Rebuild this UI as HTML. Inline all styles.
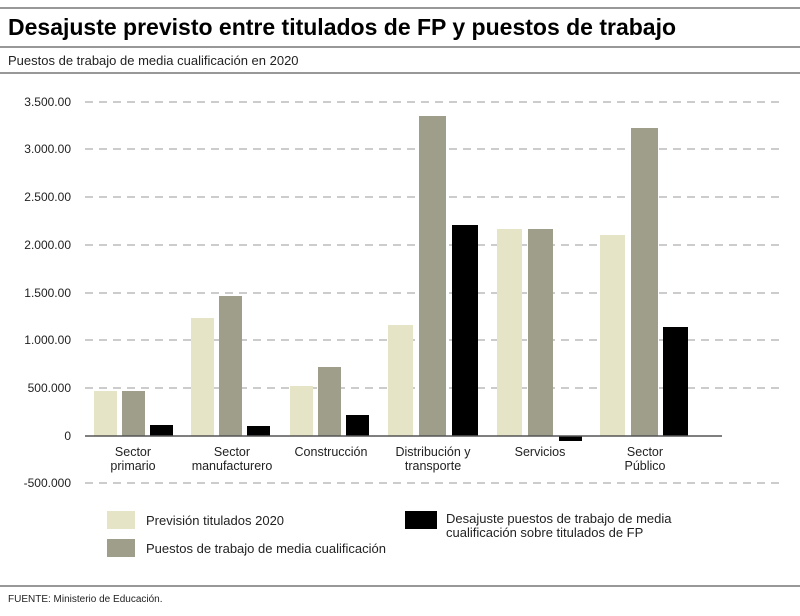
<!DOCTYPE html>
<html><head><meta charset="utf-8"><style>
body{margin:0;background:#fff;font-family:"Liberation Sans",sans-serif;}
</style></head><body>
<svg width="800" height="611" xmlns="http://www.w3.org/2000/svg" font-family="Liberation Sans, sans-serif">
<rect width="800" height="611" fill="#fff"/>
<line x1="0" y1="8" x2="800" y2="8" stroke="#777" stroke-width="1.5"/>
<text x="8" y="35" font-size="23" font-weight="bold" fill="#000">Desajuste previsto entre titulados de FP y puestos de trabajo</text>
<line x1="0" y1="47" x2="800" y2="47" stroke="#777" stroke-width="1.5"/>
<text x="8" y="65" font-size="13" fill="#222">Puestos de trabajo de media cualificación en 2020</text>
<line x1="0" y1="73" x2="800" y2="73" stroke="#777" stroke-width="1.5"/>
<g stroke="#999" stroke-dasharray="8,6" stroke-width="1">
<line x1="85" y1="102" x2="780" y2="102"/>
<line x1="85" y1="149" x2="780" y2="149"/>
<line x1="85" y1="197" x2="780" y2="197"/>
<line x1="85" y1="245" x2="780" y2="245"/>
<line x1="85" y1="293" x2="780" y2="293"/>
<line x1="85" y1="340" x2="780" y2="340"/>
<line x1="85" y1="388" x2="780" y2="388"/>
<line x1="85" y1="483" x2="780" y2="483"/>
</g>
<g font-size="12" fill="#222" text-anchor="end">
<text x="71" y="106">3.500.00</text>
<text x="71" y="153">3.000.00</text>
<text x="71" y="201">2.500.00</text>
<text x="71" y="249">2.000.00</text>
<text x="71" y="297">1.500.00</text>
<text x="71" y="344">1.000.00</text>
<text x="71" y="392">500.000</text>
<text x="71" y="440">0</text>
<text x="71" y="487">-500.000</text>
</g>
<g>
<rect x="94" y="391" width="23" height="45" fill="#e5e4c7"/>
<rect x="122" y="391" width="23" height="45" fill="#9e9e8a"/>
<rect x="150" y="425" width="23" height="11" fill="#000"/>
<rect x="191" y="318" width="23" height="118" fill="#e5e4c7"/>
<rect x="219" y="296" width="23" height="140" fill="#9e9e8a"/>
<rect x="247" y="426" width="23" height="10" fill="#000"/>
<rect x="290" y="386" width="23" height="50" fill="#e5e4c7"/>
<rect x="318" y="367" width="23" height="69" fill="#9e9e8a"/>
<rect x="346" y="415" width="23" height="21" fill="#000"/>
<rect x="388" y="325" width="25" height="111" fill="#e5e4c7"/>
<rect x="419" y="116" width="27" height="320" fill="#9e9e8a"/>
<rect x="452" y="225" width="26" height="211" fill="#000"/>
<rect x="497" y="229" width="25" height="207" fill="#e5e4c7"/>
<rect x="528" y="229" width="25" height="207" fill="#9e9e8a"/>
<rect x="559" y="436" width="23" height="5" fill="#000"/>
<rect x="600" y="235" width="25" height="201" fill="#e5e4c7"/>
<rect x="631" y="128" width="27" height="308" fill="#9e9e8a"/>
<rect x="663" y="327" width="25" height="109" fill="#000"/>
</g>
<line x1="85" y1="436" x2="722" y2="436" stroke="#555" stroke-width="1.5"/>
<g font-size="12.5" fill="#222" text-anchor="middle">
<text x="133" y="456">Sector</text><text x="133" y="470">primario</text>
<text x="232" y="456">Sector</text><text x="232" y="470">manufacturero</text>
<text x="331" y="456">Construcción</text>
<text x="433" y="456">Distribución y</text><text x="433" y="470">transporte</text>
<text x="540" y="456">Servicios</text>
<text x="645" y="456">Sector</text><text x="645" y="470">Público</text>
</g>
<rect x="107" y="511" width="28" height="18" fill="#e5e4c7"/>
<text x="146" y="525" font-size="13" fill="#222">Previsión titulados 2020</text>
<rect x="107" y="539" width="28" height="18" fill="#9e9e8a"/>
<text x="146" y="553" font-size="13" fill="#222">Puestos de trabajo de media cualificación</text>
<rect x="405" y="511" width="32" height="18" fill="#000"/>
<text x="446" y="523" font-size="13" fill="#222">Desajuste puestos de trabajo de media</text>
<text x="446" y="537" font-size="13" fill="#222">cualificación sobre titulados de FP</text>
<line x1="0" y1="586" x2="800" y2="586" stroke="#777" stroke-width="1.5"/>
<text x="8" y="602" font-size="10" fill="#222">FUENTE: Ministerio de Educación.</text>
</svg>
</body></html>
